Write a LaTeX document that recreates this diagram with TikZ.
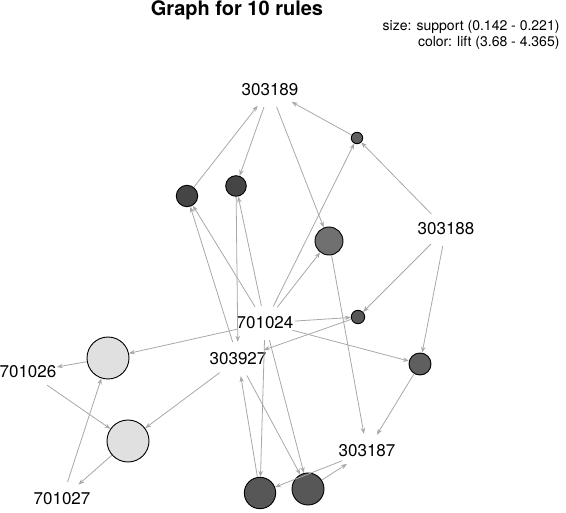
\documentclass[tikz,border=0pt]{standalone}
\usepackage{fontspec}
\setmainfont{TeX Gyre Heros}
\usetikzlibrary{arrows.meta,shapes.geometric}
\definecolor{edgegray}{HTML}{A8A8A8}
\definecolor{darkrule}{HTML}{454545}
\definecolor{midrule}{HTML}{575757}
\definecolor{lightrule}{HTML}{E0E0E0}
\begin{document}
\begin{tikzpicture}[x=1pt,y=-1pt,
	item/.style={ellipse,minimum width=60pt,minimum height=34pt,inner sep=0pt,
		label={[font=\fontsize{17}{20}\selectfont]center:#1}},
	rule/.style={circle,draw=black,line width=0.9pt,inner sep=0pt,minimum size=#1},
	edge/.style={draw=edgegray,line width=0.8pt,-{Stealth[length=6pt,width=4.5pt]}}]
	\useasboundingbox (0,0) rectangle (566,513);
	% title and legend
	\node[font=\bfseries\fontsize{20}{24}\selectfont,anchor=base] (title) at (237,16) {Graph for 10 rules};
	\node[font=\fontsize{14}{16}\selectfont,anchor=base east] (size) at (563,31) {size: support (0.142 - 0.221)};
	\node[font=\fontsize{14}{16}\selectfont,anchor=base east] (color) at (563,47) {color: lift (3.68 - 4.365)};
	% items
	\node[item=303189] (i303189) at (270,90) {};
	\node[item=303188] (i303188) at (446,229) {};
	\node[item=701024] (i701024) at (265,323) {};
	\node[item=303927] (i303927) at (238,359) {};
	\node[item=701026] (i701026) at (28,372) {};
	\node[item=701027] (i701027) at (62,499) {};
	\node[item=303187] (i303187) at (367,451) {};
	% rules
	\node[rule=21.4pt,fill=darkrule] (r1) at (187,196) {};
	\node[rule=20.6pt,fill=darkrule] (r2) at (236,186) {};
	\node[rule=11.4pt,fill=midrule!95!white] (r3) at (357,138) {};
	\node[rule=28pt,fill=midrule!85!white] (r4) at (329,241) {};
	\node[rule=13.4pt,fill=midrule] (r5) at (358,317) {};
	\node[rule=22pt,fill=midrule!95!white] (r6) at (420,364) {};
	\node[rule=42pt,fill=lightrule] (r7) at (108,358) {};
	\node[rule=42pt,fill=lightrule] (r8) at (128,441) {};
	\node[rule=31.4pt,fill=midrule] (r9) at (260,493) {};
	\node[rule=32pt,fill=midrule] (r10) at (308,489) {};
	% edges
	\foreach \a/\b in {i701024/r1, i303927/r1, r1/i303189,
		i303189/r2, i701024/r2, r2/i303927,
		i303188/r3, i701024/r3, r3/i303189,
		i303189/r4, i701024/r4, r4/i303187,
		i303188/r5, i701024/r5, r5/i303927,
		i303188/r6, i701024/r6, r6/i303187,
		i701024/r7, i701027/r7, r7/i701026,
		i701026/r8, i303927/r8, r8/i701027,
		i701024/r9, i303187/r9, r9/i303927,
		i303927/r10, i701024/r10, r10/i303187}
		\draw[edge] (\a) -- (\b);
\end{tikzpicture}
\end{document}
